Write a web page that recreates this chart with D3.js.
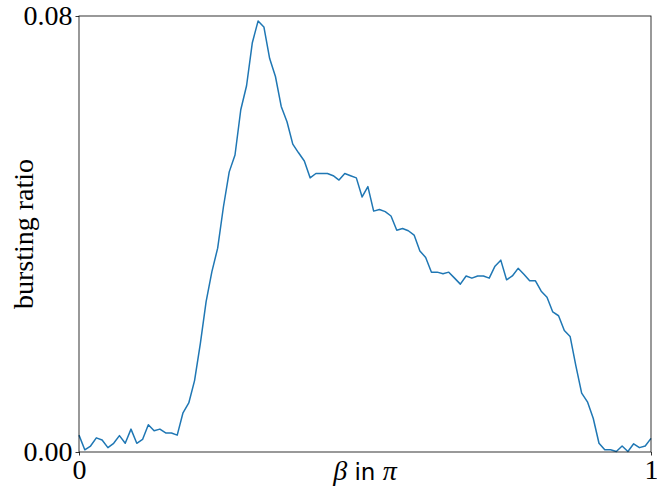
<!DOCTYPE html>
<html>
<head>
<meta charset="utf-8">
<script src="https://cdn.jsdelivr.net/npm/d3@7"></script>
<style>
  body { margin: 0; background: #fff; }
  svg { display: block; }
  .serif { font-family: "Liberation Serif", "DejaVu Serif", serif; }
  .sans { font-family: "DejaVu Sans", sans-serif; }
</style>
</head>
<body>
<svg width="657" height="489"></svg>
<script>
const svg = d3.select("svg");

// DATA
const betaDomain = [0, 1];
const ratioDomain = [0, 0.08];
const xTickValues = [0, 1];
const yTickValues = [0, 0.08];
const ratios = [
  0.0031, 0.0004, 0.0011, 0.0026, 0.0022, 0.0008, 0.0016, 0.0030, 0.0016, 0.0042,
  0.0016, 0.0023, 0.0050, 0.0039, 0.0042, 0.0035, 0.0035, 0.0031, 0.0072, 0.0090,
  0.0131, 0.0199, 0.0276, 0.0331, 0.0374, 0.0450, 0.0514, 0.0545, 0.0628, 0.0672,
  0.0751, 0.0791, 0.0780, 0.0722, 0.0689, 0.0634, 0.0606, 0.0565, 0.0549, 0.0534,
  0.0503, 0.0511, 0.0511, 0.0511, 0.0507, 0.0499, 0.0511, 0.0507, 0.0503, 0.0468,
  0.0487, 0.0442, 0.0445, 0.0441, 0.0433, 0.0407, 0.0410, 0.0406, 0.0398, 0.0369,
  0.0357, 0.0330, 0.0330, 0.0327, 0.0330, 0.0319, 0.0308, 0.0323, 0.0319, 0.0323,
  0.0323, 0.0319, 0.0341, 0.0352, 0.0316, 0.0323, 0.0337, 0.0326, 0.0314, 0.0314,
  0.0295, 0.0284, 0.0257, 0.0250, 0.0223, 0.0212, 0.0158, 0.0108, 0.0092, 0.0062,
  0.0016, 0.0004, 0.0004, 0.0001, 0.0011, 0.0001, 0.0015, 0.0008, 0.0011, 0.0025
];
const betas = ratios.map((d, i) => i / (ratios.length - 1));

// CONSTANTS
const margin = { top: 16, left: 79, right: 6, bottom: 37 };
const width = +svg.attr("width");
const height = +svg.attr("height");
const innerWidth = width - margin.left - margin.right;
const innerHeight = height - margin.top - margin.bottom;

// SCALES
const xScale = d3.scaleLinear().domain(betaDomain).range([0, innerWidth]);
const yScale = d3.scaleLinear().domain(ratioDomain).range([innerHeight, 0]);

const g = svg.append("g")
  .attr("transform", `translate(${margin.left}, ${margin.top})`);

// line
const line = d3.line()
  .x((d, i) => xScale(betas[i]))
  .y(d => yScale(d));

g.append("path")
  .datum(ratios)
  .attr("fill", "none")
  .attr("stroke", "#1f77b4")
  .attr("stroke-width", 1.5)
  .attr("stroke-linejoin", "round")
  .attr("d", line);

// axes
const xAxis = g.append("g")
  .attr("transform", `translate(0, ${innerHeight})`)
  .call(d3.axisBottom(xScale).tickValues(xTickValues).tickFormat(d3.format("d")).tickSizeOuter(0).tickSize(3.5).tickPadding(2));

const yAxis = g.append("g")
  .call(d3.axisLeft(yScale).tickValues(yTickValues).tickFormat(d3.format(".2f")).tickSizeOuter(0).tickSize(3.5).tickPadding(3));

[xAxis, yAxis].forEach(ax => {
  ax.attr("font-family", null).attr("font-size", null);
  ax.select(".domain").remove();
  ax.selectAll(".tick line").attr("stroke", "#000").attr("stroke-width", 0.8);
  ax.selectAll(".tick text")
    .attr("class", "serif")
    .style("font-size", "28px")
    .attr("fill", "#000");
});
xAxis.selectAll(".tick text").attr("dy", "0.78em");

// frame
g.append("rect")
  .attr("width", innerWidth)
  .attr("height", innerHeight)
  .attr("fill", "none")
  .attr("stroke", "#000")
  .attr("stroke-width", 0.8);

// labels
svg.append("text")
  .attr("class", "serif")
  .attr("transform", `translate(33, ${margin.top + innerHeight / 2}) rotate(-90)`)
  .attr("text-anchor", "middle")
  .style("font-size", "28px")
  .text("bursting ratio");

const xLabel = svg.append("text")
  .attr("x", margin.left + innerWidth / 2)
  .attr("y", 480)
  .attr("text-anchor", "middle")
  .style("font-size", "28px");
xLabel.append("tspan").attr("class", "serif").style("font-style", "italic").text("β");
xLabel.append("tspan").attr("class", "sans").style("font-size", "23px").text(" in ");
xLabel.append("tspan").attr("class", "serif").style("font-style", "italic").text("π");
</script>
</body>
</html>
